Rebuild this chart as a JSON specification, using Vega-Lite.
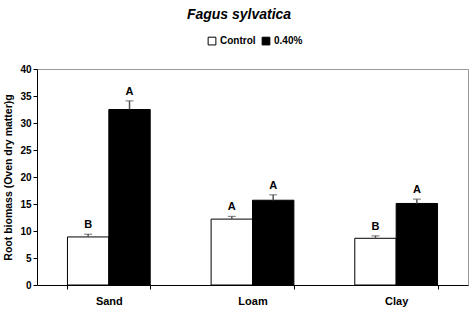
{
  "$schema": "https://vega.github.io/schema/vega-lite/v6.json",
  "width": 431,
  "height": 216,
  "autosize": {"type": "none"},
  "padding": {"left": 37, "top": 69, "right": 5, "bottom": 24},
  "background": "white",
  "title": {"text": "Fagus sylvatica", "font": "Liberation Sans", "fontSize": 14, "fontWeight": "bold", "fontStyle": "italic", "color": "black", "anchor": "start", "dx": 183, "offset": 14},
  "config": {
    "view": {"stroke": "#999999", "strokeWidth": 1},
    "font": "Liberation Sans",
    "axisY": {"tickCount": 8, "labelOverlap": false, "grid": false, "labelFont": "Liberation Sans", "labelFontSize": 10, "labelFontWeight": "bold", "labelColor": "black", "domainColor": "black", "tickColor": "black", "tickSize": 4, "titleFont": "Liberation Sans", "titleFontSize": 10.5, "titleFontWeight": "bold", "titleColor": "black", "titlePadding": 6}
  },
  "data": {"values": [
    {"soil": "Sand", "treatment": "Control", "mean": 8.9, "err": 9.4, "letter": "B"},
    {"soil": "Sand", "treatment": "0.40%", "mean": 32.5, "err": 34.1, "letter": "A"},
    {"soil": "Loam", "treatment": "Control", "mean": 12.2, "err": 12.7, "letter": "A"},
    {"soil": "Loam", "treatment": "0.40%", "mean": 15.7, "err": 16.7, "letter": "A"},
    {"soil": "Clay", "treatment": "Control", "mean": 8.65, "err": 9.1, "letter": "B"},
    {"soil": "Clay", "treatment": "0.40%", "mean": 15.1, "err": 15.9, "letter": "A"}
  ]},
  "encoding": {
    "x": {"field": "soil", "type": "nominal", "sort": ["Sand", "Loam", "Clay"],
      "scale": {"paddingInner": 0.424, "paddingOuter": 0.212},
      "axis": {"title": null, "labelAngle": 0, "labelFont": "Liberation Sans", "labelFontSize": 11, "labelFontWeight": "bold", "labelColor": "black", "domainColor": "black", "tickColor": "black", "tickBand": "extent", "tickSize": 4, "labelPadding": 6}},
    "xOffset": {"field": "treatment", "type": "nominal", "sort": ["Control", "0.40%"], "scale": {"padding": 0}}
  },
  "layer": [
    {
      "mark": {"type": "bar", "stroke": "black", "strokeWidth": 1},
      "encoding": {
        "y": {"field": "mean", "type": "quantitative", "scale": {"domain": [0, 40]},
          "axis": {"title": "Root biomass (Oven dry matter)g"}},
        "fill": {"field": "treatment", "type": "nominal", "sort": ["Control", "0.40%"],
          "scale": {"domain": ["Control", "0.40%"], "range": ["white", "black"]},
          "legend": {"title": null, "orient": "none", "direction": "horizontal", "legendX": 170, "legendY": -33, "symbolType": "square", "symbolSize": 60, "symbolStrokeColor": "black", "symbolStrokeWidth": 1, "labelFont": "Liberation Sans", "labelFontSize": 10, "labelFontWeight": "bold", "labelColor": "black", "columnPadding": 4, "labelOffset": 3}}
      }
    },
    {
      "mark": {"type": "rule", "color": "#555555", "strokeWidth": 1.5},
      "encoding": {"y": {"field": "mean", "type": "quantitative"}, "y2": {"field": "err"}}
    },
    {
      "mark": {"type": "tick", "color": "#555555", "size": 8, "thickness": 1.2},
      "encoding": {"y": {"field": "err", "type": "quantitative"}}
    },
    {
      "mark": {"type": "text", "dy": -9, "font": "Liberation Sans", "fontSize": 11, "fontWeight": "bold", "color": "black"},
      "encoding": {"y": {"field": "err", "type": "quantitative"}, "text": {"field": "letter"}}
    }
  ]
}
